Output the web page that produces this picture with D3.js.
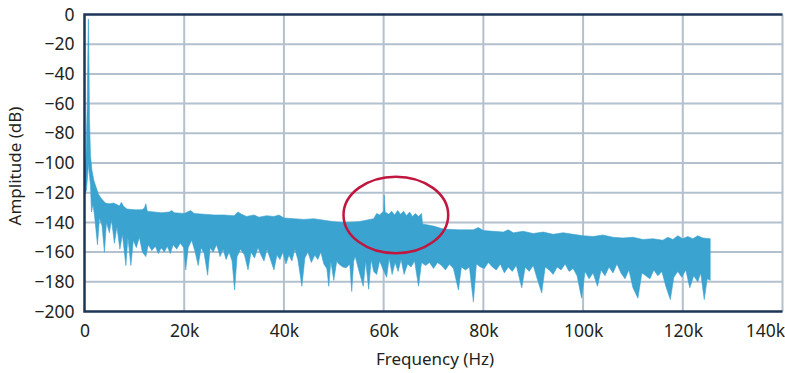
<!DOCTYPE html>
<html>
<head>
<meta charset="utf-8">
<script src="https://cdn.jsdelivr.net/npm/d3@7"></script>
<style>
  body { margin: 0; background: #fff; }
  svg text { font-family: "Noto Sans", "DejaVu Sans", sans-serif; fill: #231f20; }
</style>
</head>
<body>
<svg id="chart" width="785" height="373"></svg>
<script>
// tick values
var xTicks = [0, 20, 40, 60, 80, 100, 120, 140]; // kHz
var yTicks = [0, -20, -40, -60, -80, -100, -120, -140, -160, -180, -200];

// top edge of the spectrum fill [kHz, dB]
var upperEdge = [
   [0, -108], [0.3, -95], [0.55, -60], [0.7, -20], [0.78, -3], [0.86, -20], [1.0, -70],
   [1.2, -95], [1.5, -105], [1.9, -112], [2.3, -116], [2.8, -121], [3.4, -124], [4.2, -127],
   [5, -127.5], [5.8, -127], [6.5, -128], [7.0, -129], [7.4, -126.5], [7.8, -129], [8.5, -131],
   [10, -131.5], [11.5, -131.5], [12.0, -130.5], [12.3, -127.5], [12.6, -132.5], [14, -133],
   [15.5, -133.5], [17, -133], [17.5, -132], [18, -133.5], [20, -134], [21.3, -132], [22, -134],
   [24, -134.5], [26, -135], [28, -135], [30, -135.5], [30.8, -133], [31.5, -134.5], [32.5, -136],
   [34, -135], [35, -136.5], [36.5, -135.5], [38, -136], [39, -135], [40, -137], [42, -137.5],
   [44, -138], [46, -137.5], [48, -138.5], [50, -139.5], [52, -140], [55, -139.5], [58, -137.5],
   [58.6, -134], [59.2, -135], [59.8, -133], [60.0, -133], [60.1, -121.5], [60.3, -133],
   [61, -134.5], [61.6, -132.5], [62.2, -135], [62.8, -132], [63.4, -134.5], [64.0, -132.5],
   [64.6, -135.5], [65.2, -133], [65.8, -136], [66.4, -134], [67.0, -136], [67.6, -134],
   [67.8, -141], [70, -142.5], [72, -144.5], [75, -145], [78, -145], [79, -143.5], [80, -145.5],
   [82, -146], [84, -146.5], [85, -145], [86, -147], [88, -146], [90, -147.5], [92, -146.5],
   [94, -148], [96, -147], [98, -148], [100, -149], [102, -149.5], [104, -148.5], [106, -150],
   [108, -150.5], [110, -150], [112, -151.5], [114, -151], [116, -152], [117, -150],
   [118, -151.5], [119, -149], [120, -151], [121, -149.5], [122, -151], [123, -149],
   [124, -150.5], [125.5, -151]
];

// bottom edge of the spectrum fill [kHz, dB]
var lowerEdge = [
   [0, -122], [0.4, -118], [0.7, -105], [0.8, -100], [0.9, -105], [1.2, -115], [1.4, -133],
   [1.7, -128], [2.0, -135], [2.6, -155], [3.0, -137], [3.5, -142], [4.0, -160], [4.4, -140],
   [5.0, -147], [5.4, -138], [6.0, -154], [6.5, -143], [7.1, -158], [7.6, -148], [8.3, -169],
   [8.7, -150], [9.3, -169], [9.8, -152], [10.4, -157], [11.0, -150], [11.6, -160], [12.3, -163],
   [12.8, -155], [13.5, -159], [14.2, -156], [14.8, -161], [15.4, -157], [16.0, -160],
   [16.6, -156], [17.2, -161], [17.8, -155], [18.5, -158], [19.2, -154], [19.9, -157],
   [20.3, -172], [20.8, -157], [21.5, -152], [22.2, -160], [22.8, -169], [23.4, -157],
   [24.0, -161], [24.7, -175.5], [25.2, -157], [25.8, -160], [26.5, -155], [27.2, -163],
   [27.8, -158], [28.4, -165], [29.0, -160], [29.6, -166], [30.1, -185.5], [30.6, -163],
   [31.3, -158], [32.1, -162], [32.8, -172], [33.4, -160], [34.1, -164], [34.8, -157],
   [35.4, -162], [36.0, -166], [36.6, -158], [37.3, -165], [38.0, -172], [38.6, -162],
   [39.2, -165], [39.8, -160], [40.4, -168], [41.0, -162], [41.6, -166], [42.2, -158],
   [42.8, -165], [43.6, -183], [44.2, -164], [44.8, -160], [45.5, -167], [46.2, -162],
   [46.8, -165], [47.4, -160], [48.0, -168], [48.6, -171], [49.0, -183], [49.4, -166],
   [50.0, -179], [50.6, -166], [51.0, -168], [51.8, -170], [52.5, -170.5], [53.2, -168],
   [53.6, -186.5], [54.0, -166], [54.3, -163], [55.0, -172], [55.9, -183], [56.4, -166],
   [57.0, -185], [57.5, -165], [58.0, -173], [58.6, -175], [59.2, -166], [59.8, -171],
   [60.6, -177], [61.1, -164], [61.7, -175], [62.3, -167], [62.9, -173], [63.5, -165],
   [64.1, -175], [64.8, -168], [65.5, -170], [66.2, -166], [67.0, -183], [67.6, -167],
   [68.4, -169], [69.2, -167], [70.0, -171], [70.8, -167], [71.6, -169], [72.4, -172],
   [73.2, -168], [74.0, -171], [75.0, -185.5], [75.6, -170], [76.4, -172], [77.2, -170],
   [78.0, -193.5], [78.6, -168], [79.4, -170], [80.2, -171], [81.0, -167], [81.8, -170],
   [82.6, -172], [83.4, -168], [84.2, -174], [85.0, -170], [85.8, -173], [86.6, -169],
   [87.7, -184], [88.4, -170], [89.2, -173], [90.0, -169], [90.8, -178], [91.7, -187.5],
   [92.4, -170], [93.2, -172], [94.0, -175], [94.8, -170], [95.6, -172], [96.4, -168],
   [97.2, -173], [98.0, -171], [98.8, -176], [99.7, -191], [100.4, -173], [101.2, -178],
   [102.0, -174], [102.9, -183], [103.6, -172], [104.4, -176], [105.2, -170], [106.0, -174],
   [106.8, -168], [107.6, -174], [108.4, -178], [109.2, -172], [110.0, -184], [111.0, -191],
   [111.8, -174], [112.6, -176], [113.4, -178], [114.2, -172], [115.0, -176], [115.8, -173],
   [116.6, -183], [117.5, -192], [118.2, -177], [119.0, -173], [119.8, -177], [120.6, -172],
   [121.4, -184], [122.2, -176], [123.0, -180], [123.6, -174], [124.3, -192], [124.9, -178],
   [125.5, -179]
];

// highlighted region: centre [kHz, dB] and radii [kHz, dB]
var circleCentre = [62.45, -135];
var circleRadius = [10.5, 25.8];

var svg = d3.select("svg#chart");
var plotLeft = 84.5, plotRight = 782.5, plotTop = 14.5, plotBottom = 311.5;

var x = d3.scaleLinear().domain([0, 140]).range([plotLeft, plotRight]);
var y = d3.scaleLinear().domain([0, -200]).range([plotTop, plotBottom]);

var gridColor = "#b3c0cd",
   frameColor = "#1d3557";

// grid lines
svg.append("g")
   .selectAll("line")
   .data(xTicks.slice(1))
   .enter()
   .append("line")
   .attr("x1", (d) => x(d))
   .attr("x2", (d) => x(d))
   .attr("y1", plotTop)
   .attr("y2", plotBottom)
   .attr("stroke", gridColor)
   .attr("stroke-width", 2);

svg.append("g")
   .selectAll("line")
   .data(yTicks.slice(1, -1))
   .enter()
   .append("line")
   .attr("x1", plotLeft)
   .attr("x2", plotRight)
   .attr("y1", (d) => y(d))
   .attr("y2", (d) => y(d))
   .attr("stroke", gridColor)
   .attr("stroke-width", 2);

// spectrum fill: top edge forward, bottom edge back
svg.append("clipPath")
   .attr("id", "plotClip")
   .append("rect")
   .attr("x", plotLeft)
   .attr("y", plotTop)
   .attr("width", plotRight - plotLeft)
   .attr("height", plotBottom - plotTop);

var edgeLine = d3.line()
   .x((d) => x(d[0]))
   .y((d) => y(d[1]));

svg.append("path")
   .datum(upperEdge.concat(lowerEdge.slice().reverse()))
   .attr("clip-path", "url(#plotClip)")
   .attr("d", (d) => edgeLine(d) + "Z")
   .attr("fill", "#3aa3d0")
   .attr("stroke", "#3aa3d0")
   .attr("stroke-width", 0.6)
   .attr("stroke-linejoin", "miter");

// frame (left, top, bottom dark)
svg.append("path")
   .attr("d", "M" + plotRight + "," + plotTop + "H" + plotLeft + "V" + plotBottom + "H" + plotRight)
   .attr("fill", "none")
   .attr("stroke", frameColor)
   .attr("stroke-width", 2.5);

// tick labels via d3 axes, lines hidden
var fmtX = (d) => (d === 0 ? "0" : d + "k");
var fmtY = (d) => (d < 0 ? "\u2212" + Math.abs(d) : "" + d);

var xAxis = svg.append("g")
   .attr("transform", "translate(0," + plotBottom + ")")
   .call(d3.axisBottom(x).tickValues(xTicks).tickFormat(fmtX).tickSize(0).tickPadding(13));
xAxis.select(".domain").remove();
xAxis.selectAll("text")
   .attr("font-size", 17.5)
   .attr("font-family", null)
   .attr("fill", null);
// last label pulled in so it stays on the page
xAxis.selectAll(".tick")
   .filter((d) => d === 140)
   .select("text")
   .attr("text-anchor", "end")
   .attr("dx", 2);

var yAxis = svg.append("g")
   .attr("transform", "translate(" + plotLeft + ",0)")
   .call(d3.axisLeft(y).tickValues(yTicks).tickFormat(fmtY).tickSize(0).tickPadding(10));
yAxis.select(".domain").remove();
yAxis.selectAll("text")
   .attr("font-size", 17.5)
   .attr("font-family", null)
   .attr("fill", null);

// axis titles
svg.append("text")
   .attr("x", 435)
   .attr("y", 365)
   .attr("text-anchor", "middle")
   .attr("font-size", 17)
   .text("Frequency (Hz)");

svg.append("text")
   .attr("transform", "translate(21,166) rotate(-90)")
   .attr("text-anchor", "middle")
   .attr("font-size", 17)
   .text("Amplitude (dB)");

// red ellipse annotation
svg.append("ellipse")
   .attr("cx", x(circleCentre[0]))
   .attr("cy", y(circleCentre[1]))
   .attr("rx", x(circleRadius[0]) - x(0))
   .attr("ry", y(-circleRadius[1]) - y(0))
   .attr("fill", "none")
   .attr("stroke", "#c0173f")
   .attr("stroke-width", 2.5);
</script>
</body>
</html>
